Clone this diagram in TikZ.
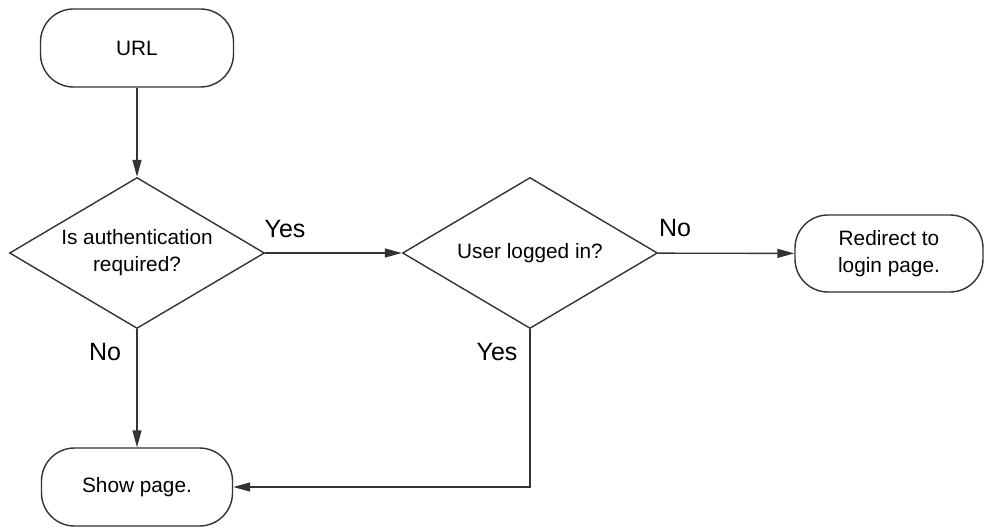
\documentclass[tikz,border=0pt]{standalone}
\usepackage{fontspec}
\setmainfont{Liberation Sans}
\usetikzlibrary{arrows.meta,shapes.geometric}

\tikzset{
  terminal/.style={draw=black!80,line width=.7pt,rounded corners=16.5pt,
    minimum height=39pt,inner sep=0pt,align=center,
    font=\fontsize{10.4}{13.4}\selectfont},
  decision/.style={draw=black!80,line width=.7pt,diamond,shape aspect=1.69,
    minimum width=127.5pt,minimum height=75.5pt,inner sep=0pt,align=center,
    font=\fontsize{10.4}{13.4}\selectfont},
  answer/.style={inner sep=0pt,font=\fontsize{12.5}{15}\selectfont},
  flow/.style={draw=black!80,line width=.7pt,-{Triangle[length=8.5pt,width=4.5pt]}}
}

\begin{document}
\begin{tikzpicture}[x=.5pt,y=-.5pt]
\useasboundingbox (0,0) rectangle (985,529);
\node[terminal,minimum width=96.5pt] (url) at (137,48) {URL};
\node[decision] (auth) at (137,253) {Is authentication\\required?};
\node[decision] (logged) at (530,253) {User logged in?};
\node[terminal,minimum width=94pt,minimum height=38.5pt] (redirect) at (889,253.5) {Redirect to\\login page.};
\node[terminal,minimum width=95.5pt] (show) at (137,487) {Show page.};
\node[answer] (authyes) at (285,229) {Yes};
\node[answer] (authno) at (105,352) {No};
\node[answer] (loggedno) at (675,228) {No};
\node[answer] (loggedyes) at (497,352) {Yes};
\draw[flow] (url) -- (auth);
\draw[flow] (auth) -- (logged);
\draw[flow] (logged) -- (redirect);
\draw[flow] (auth) -- (show);
\draw[flow] (logged.south) |- (show.east);
\end{tikzpicture}
\end{document}
